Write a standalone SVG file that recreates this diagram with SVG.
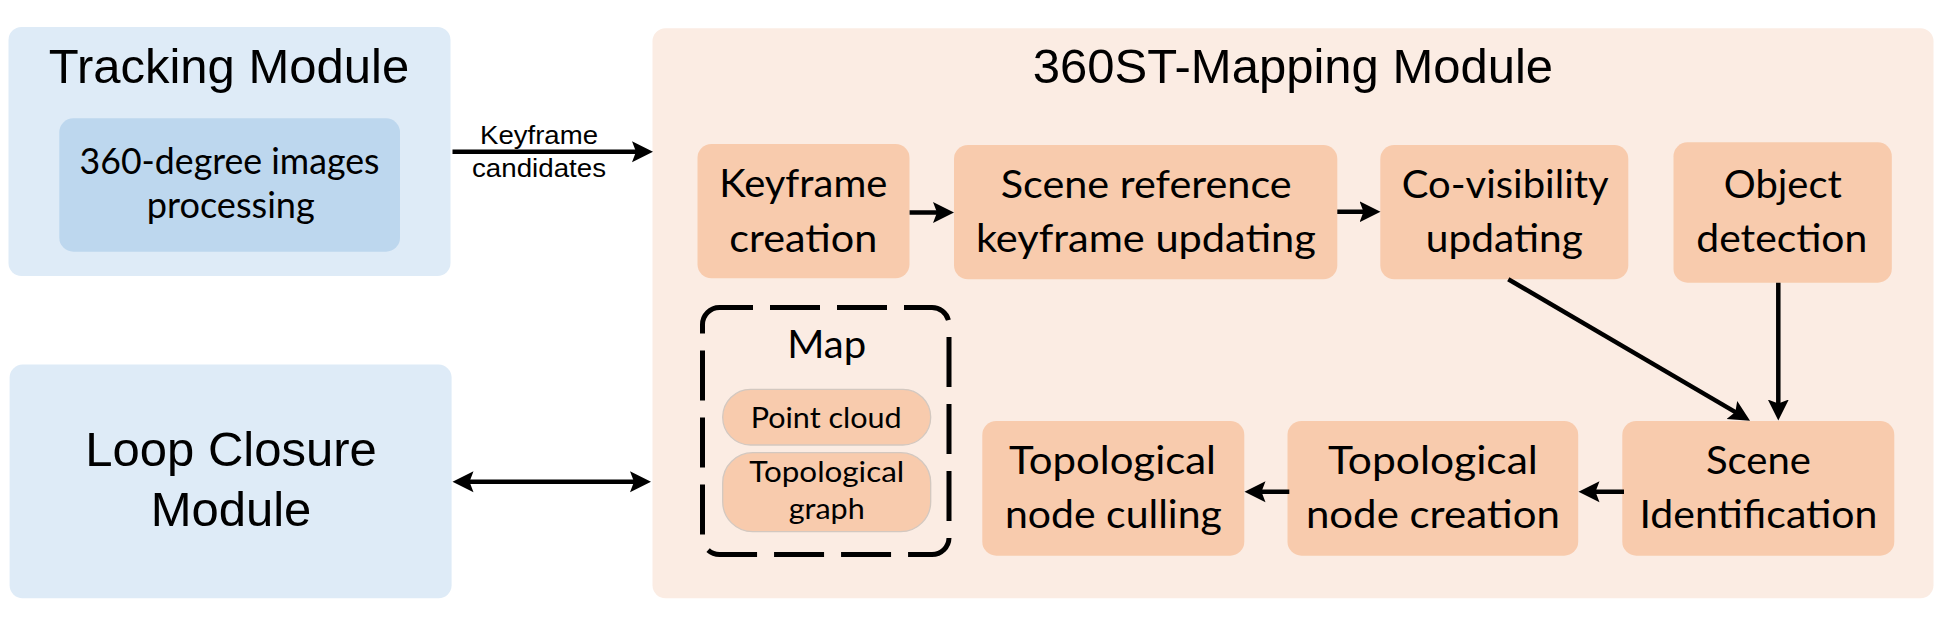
<svg xmlns="http://www.w3.org/2000/svg" width="1940" height="623" viewBox="0 0 1940 623">
<defs>
<style>
.bg{fill:#ffffff}
.blue{fill:#deebf7}
.blue2{fill:#bdd7ee}
.peach{fill:#fbece3}
.node{fill:#f8cbad}
.pill{fill:#f8cbad;stroke:#d3c8c0;stroke-width:1.3}
.dash{fill:none;stroke:#000;stroke-width:5;stroke-dasharray:50 17;stroke-dashoffset:16.5}
.ar{font-family:"Liberation Sans",Arial,sans-serif;fill:#000;text-anchor:middle}
.ca{font-family:Lato,"Open Sans",sans-serif;fill:#000;text-anchor:middle}
.t49{font-size:49px}
.t25{font-size:25.5px}
.t38{font-size:38px}
.t37{font-size:37px}
.t29{font-size:29.5px}
.edge{fill:none;stroke:#000;stroke-width:4.5}
</style>
<marker id="ah" markerUnits="userSpaceOnUse" markerWidth="22" markerHeight="22" refX="11" refY="10.5" orient="auto-start-reverse" viewBox="0 0 22 21">
<path d="M0,0 L21,10.5 L0,21 L4,10.5 Z" fill="#000"/>
</marker>
</defs>
<rect class="bg" x="0" y="0" width="1940" height="623"/>

<g id="tracking-module">
<rect class="blue" x="8.5" y="27" width="442" height="249" rx="13"/>
<text class="ar t49" x="229" y="83">Tracking Module</text>
</g>
<g id="image-processing">
<rect class="blue2" x="59.3" y="118.3" width="340.7" height="133.4" rx="14"/>
<text class="ca t37" x="229.5" y="174" textLength="300" lengthAdjust="spacingAndGlyphs">360-degree images</text>
<text class="ca t37" x="230.8" y="218.3" textLength="168" lengthAdjust="spacingAndGlyphs">processing</text>
</g>
<g id="loop-closure-module">
<rect class="blue" x="9.6" y="364.6" width="442" height="233.7" rx="13"/>
<text class="ar t49" x="231" y="465.7">Loop Closure</text>
<text class="ar t49" x="231" y="526">Module</text>
</g>
<g id="mapping-module">
<rect class="peach" x="652.5" y="28.3" width="1281" height="570" rx="13"/>
<text class="ar t49" x="1293" y="82.7">360ST-Mapping Module</text>
</g>
<g id="keyframe-creation">
<rect class="node" x="697.5" y="144" width="212" height="134.3" rx="14"/>
<text class="ca t38" x="803.3" y="197.3" textLength="168" lengthAdjust="spacingAndGlyphs">Keyframe</text>
<text class="ca t38" x="803.3" y="251.7" textLength="148" lengthAdjust="spacingAndGlyphs">creation</text>
</g>
<g id="scene-reference">
<rect class="node" x="954" y="145" width="383.3" height="134.3" rx="14"/>
<text class="ca t38" x="1146.2" y="198.3" textLength="291" lengthAdjust="spacingAndGlyphs">Scene reference</text>
<text class="ca t38" x="1145.9" y="251.7" textLength="340" lengthAdjust="spacingAndGlyphs">keyframe updating</text>
</g>
<g id="co-visibility">
<rect class="node" x="1380.3" y="145" width="248" height="134.3" rx="14"/>
<text class="ca t38" x="1505.2" y="198.3" textLength="207" lengthAdjust="spacingAndGlyphs">Co-visibility</text>
<text class="ca t38" x="1504.3" y="251.7" textLength="157" lengthAdjust="spacingAndGlyphs">updating</text>
</g>
<g id="object-detection">
<rect class="node" x="1673.5" y="142.3" width="218.3" height="140.4" rx="14"/>
<text class="ca t38" x="1782.8" y="198.3" textLength="118" lengthAdjust="spacingAndGlyphs">Object</text>
<text class="ca t38" x="1781.8" y="251.7" textLength="171" lengthAdjust="spacingAndGlyphs">detection</text>
</g>
<g id="scene-identification">
<rect class="node" x="1622.3" y="421" width="272" height="134.7" rx="14"/>
<text class="ca t38" x="1758.4" y="474" textLength="105" lengthAdjust="spacingAndGlyphs">Scene</text>
<text class="ca t38" x="1758.5" y="528.3" textLength="238" lengthAdjust="spacingAndGlyphs">Identification</text>
</g>
<g id="node-creation">
<rect class="node" x="1287.5" y="421" width="290.7" height="134.7" rx="14"/>
<text class="ca t38" x="1432.9" y="474" textLength="210" lengthAdjust="spacingAndGlyphs">Topological</text>
<text class="ca t38" x="1432.9" y="528.3" textLength="254" lengthAdjust="spacingAndGlyphs">node creation</text>
</g>
<g id="node-culling">
<rect class="node" x="982.3" y="421" width="262" height="134.7" rx="14"/>
<text class="ca t38" x="1112.5" y="474" textLength="207" lengthAdjust="spacingAndGlyphs">Topological</text>
<text class="ca t38" x="1113.4" y="528.3" textLength="217" lengthAdjust="spacingAndGlyphs">node culling</text>
</g>
<g id="map">
<rect class="dash" x="702.5" y="307.5" width="246.5" height="247" rx="17"/>
<text class="ca" style="font-size:39.5px" x="826.7" y="358.3" textLength="79" lengthAdjust="spacingAndGlyphs">Map</text>
<g id="point-cloud">
<rect class="pill" x="722.7" y="389.3" width="208" height="55.7" rx="27.8"/>
<text class="ca t29" x="826.2" y="427.7" textLength="151" lengthAdjust="spacingAndGlyphs">Point cloud</text>
</g>
<g id="topological-graph">
<rect class="pill" x="722.7" y="452.7" width="208" height="79" rx="30"/>
<text class="ca t29" x="826.7" y="481.7" textLength="155" lengthAdjust="spacingAndGlyphs">Topological</text>
<text class="ca t29" x="826.7" y="519" textLength="76" lengthAdjust="spacingAndGlyphs">graph</text>
</g>
</g>

<g id="connectors">
<path class="edge" d="M452.5,151.7 H643" marker-end="url(#ah)"/>
<text class="ar t25" x="539" y="144.3" textLength="118" lengthAdjust="spacingAndGlyphs">Keyframe</text>
<text class="ar t25" x="539" y="176.7" textLength="134" lengthAdjust="spacingAndGlyphs">candidates</text>
<path class="edge" d="M909.6,212.5 H944" marker-end="url(#ah)"/>
<path class="edge" d="M1337.3,211.7 H1370.5" marker-end="url(#ah)"/>
<path class="edge" d="M1508.3,279.3 L1741.4,415.6" marker-end="url(#ah)"/>
<path class="edge" d="M1778.3,282.7 V410.5" marker-end="url(#ah)"/>
<path class="edge" d="M1624,491.7 H1588.5" marker-end="url(#ah)"/>
<path class="edge" d="M1289.3,491.7 H1254.5" marker-end="url(#ah)"/>
<path class="edge" d="M462.5,481.7 H641" marker-start="url(#ah)" marker-end="url(#ah)"/>
</g>
</svg>
